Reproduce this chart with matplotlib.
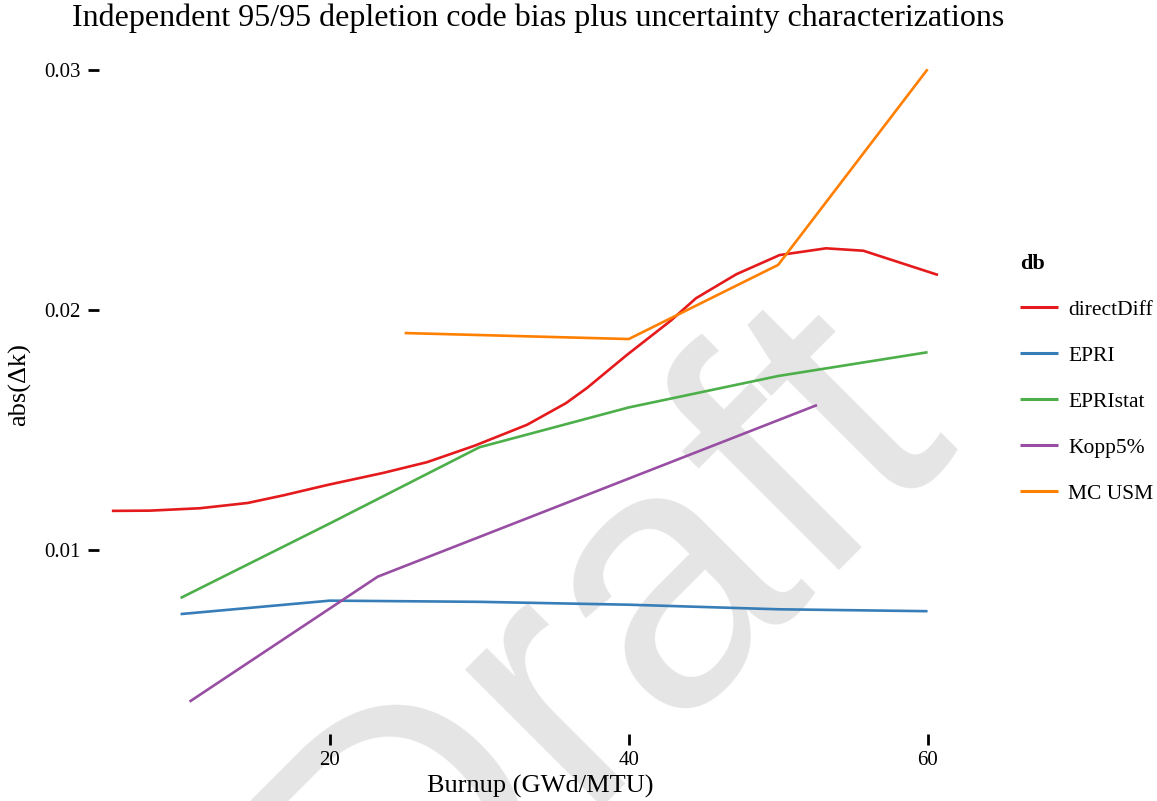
import matplotlib
matplotlib.use("Agg")
import matplotlib.pyplot as plt
import numpy as np

plt.rcParams['font.family'] = ['Liberation Serif', 'DejaVu Serif']

# ---- data ----
title = "Independent 95/95 depletion code bias plus uncertainty characterizations"
x_label = "Burnup (GWd/MTU)"
y_label = "abs(\u0394k)"
legend_title = "db"
series_names = ["directDiff", "EPRI", "EPRIstat", "Kopp5%", "MC USM"]
colors = ["#E41A1C", "#377EB8", "#4DAF4A", "#984EA3", "#FF7F00"]

directDiff_x = [5.4, 7.95, 11.3, 14.5, 16.9, 19.83, 23.55, 26.5, 29.7, 33.2, 35.8,
                37.2, 39.88, 42.8, 44.5, 47.2, 50.1, 53.2, 55.7, 60.7]
directDiff_y = [0.01163, 0.01164, 0.01174, 0.01196, 0.01228, 0.01271, 0.01321, 0.01366,
                0.01435, 0.01522, 0.01612, 0.01675, 0.01813, 0.01955, 0.02049, 0.02149,
                0.02229, 0.02257, 0.02247, 0.02146]
EPRI_x = [10, 20, 30, 40, 50, 60]
EPRI_y = [0.00733, 0.00789, 0.00784, 0.00772, 0.00753, 0.00745]
EPRIstat_x = [10, 20, 30, 40, 50, 60]
EPRIstat_y = [0.00800, 0.01111, 0.01428, 0.01594, 0.01725, 0.01824]
Kopp_x = [10.6, 23.2, 52.6]
Kopp_y = [0.00368, 0.00889, 0.01604]
MCUSM_x = [25, 40, 50, 60]
MCUSM_y = [0.01904, 0.01879, 0.02188, 0.03003]

xs = [directDiff_x, EPRI_x, EPRIstat_x, Kopp_x, MCUSM_x]
ys = [directDiff_y, EPRI_y, EPRIstat_y, Kopp_y, MCUSM_y]
x_ticks = [20, 40, 60]
y_ticks = [0.01, 0.02, 0.03]
y_ticklabels = ["0.01", "0.02", "0.03"]

W, H = 1157, 801
fig = plt.figure(figsize=(W / 100, H / 100), dpi=100)
fig.patch.set_facecolor("white")

# watermark
fig.text(389 / W, 1 - 990 / H, "Draft", fontsize=265, color="#e5e5e5",
         family="Liberation Sans", rotation=45, rotation_mode="anchor",
         ha="left", va="baseline", zorder=-5)

L, R, T, B = 99, 980, 36, 734
ax = fig.add_axes([L / W, 1 - B / H, (R - L) / W, (B - T) / H])
ax.patch.set_alpha(0)

for name, c, x, y in zip(series_names, colors, xs, ys):
    ax.plot(x, y, color=c, lw=1.9, label=name, solid_capstyle="butt",
            solid_joinstyle="round")

ax.set_xlim(4.54, 63.51)
ax.set_ylim(0.002333, 0.031417)
for s in ax.spines.values():
    s.set_visible(False)
ax.set_xticks(x_ticks)
ax.set_xticklabels([str(v) for v in x_ticks])
ax.set_yticks(y_ticks)
ax.set_yticklabels(y_ticklabels)
ax.tick_params(axis="both", direction="out", length=7.9, width=2.0, labelsize=15,
               color="black")
ax.tick_params(axis="x", pad=4)
ax.tick_params(axis="y", pad=5.5)

fig.text(540 / W, 1 - 786 / H, x_label, fontsize=19, ha="center", va="center")
fig.text(20 / W, 1 - 385 / H, y_label, fontsize=19, ha="center", va="center",
         rotation=90)
fig.text(72 / W, 1 - 26 / H, title, fontsize=23, ha="left", va="baseline")

leg = ax.legend(loc="upper left", bbox_to_anchor=(1020 / W, 1 - 254 / H),
                bbox_transform=fig.transFigure, frameon=False, fontsize=15.5,
                title=legend_title, title_fontproperties={"weight": "bold", "size": 16},
                handlelength=1.76, handletextpad=0.48, labelspacing=1.2,
                borderaxespad=0, borderpad=0)
leg._legend_box.align = "left"
for h in leg.get_lines():
    h.set_linewidth(2.2)

fig.savefig("out.png", dpi=100, facecolor="white")
